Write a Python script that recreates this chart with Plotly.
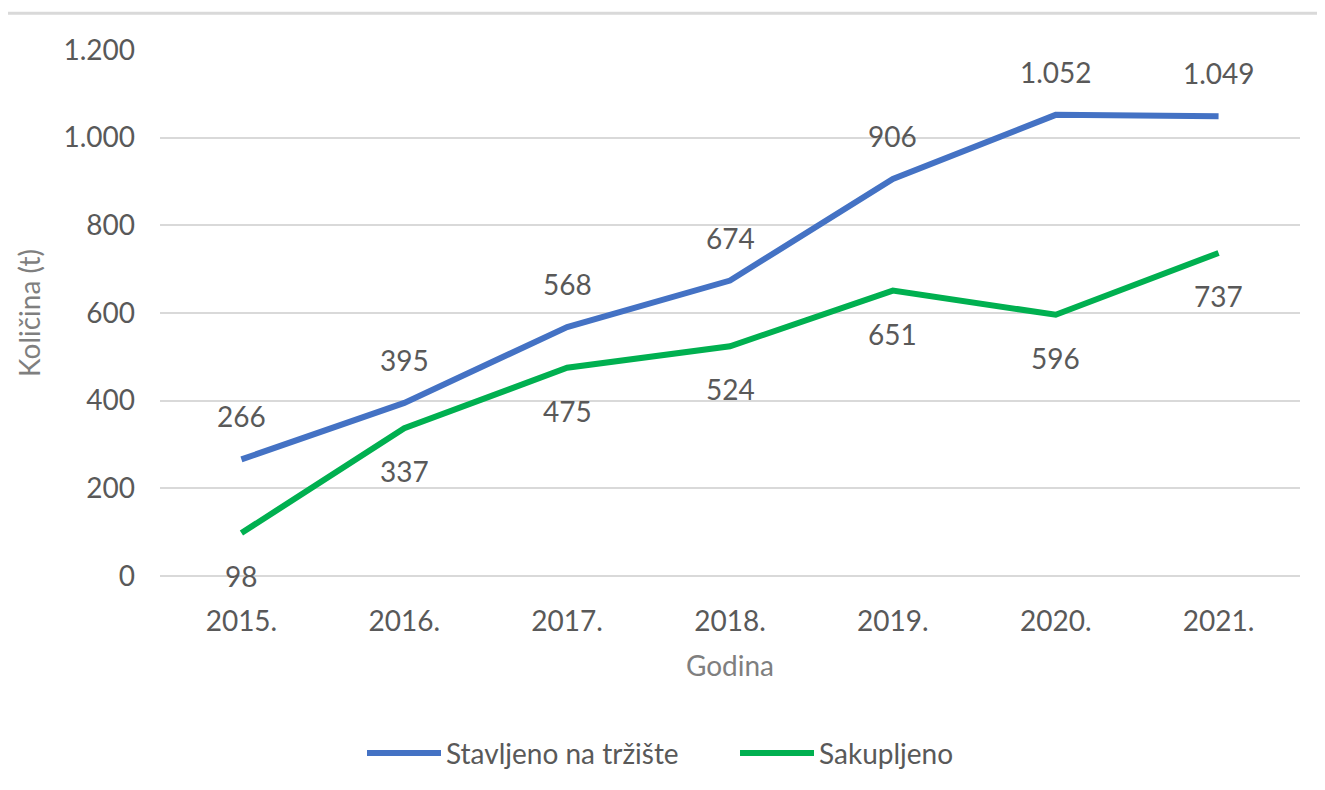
import plotly.graph_objects as go

years = ["2015.", "2016.", "2017.", "2018.", "2019.", "2020.", "2021."]
stavljeno = [266, 395, 568, 674, 906, 1052, 1049]
sakupljeno = [98, 337, 475, 524, 651, 596, 737]
y_ticks = [0, 200, 400, 600, 800, 1000, 1200]

BLUE = "#4472C4"
GREEN = "#00B050"
GRAY = "#595959"
LGRAY = "#7F7F7F"
FONT = "Lato, Open Sans, sans-serif"
FS = 28


def fmt(v):
    return f"{v:,}".replace(",", ".")


fig = go.Figure()
fig.add_trace(go.Scatter(x=years, y=stavljeno, mode="lines", name="Stavljeno na tržište",
                         line=dict(color=BLUE, width=6), hoverinfo="skip"))
fig.add_trace(go.Scatter(x=years, y=sakupljeno, mode="lines", name="Sakupljeno",
                         line=dict(color=GREEN, width=6), hoverinfo="skip"))

annotations = []
for i, v in enumerate(stavljeno):
    annotations.append(dict(x=i, y=v, xref="x", yref="y", text=fmt(v), showarrow=False,
                            yshift=43, font=dict(size=FS, color=GRAY, family=FONT)))
for i, v in enumerate(sakupljeno):
    annotations.append(dict(x=i, y=v, xref="x", yref="y", text=fmt(v), showarrow=False,
                            yshift=-43, font=dict(size=FS, color=GRAY, family=FONT)))

# page has an 8px body margin: figure origin sits at (8, 8)
W, H = 1317, 782
L, R, T, B = 152, 25, 42, 212
PW = W - L - R
PH = H - T - B

fig.update_layout(
    width=W, height=H,
    margin=dict(l=L, r=R, t=T, b=B),
    paper_bgcolor="white", plot_bgcolor="white",
    font=dict(family=FONT, color=GRAY, size=FS),
    annotations=annotations,
    showlegend=True,
    legend=dict(orientation="h", x=(362 - 8 - L) / PW, xanchor="left",
                y=-(756 - 8 - (T + PH)) / PH, yanchor="middle",
                font=dict(size=FS, color=GRAY, family=FONT), itemwidth=74,
                entrywidth=284, traceorder="normal"),
    xaxis=dict(type="category", range=[-0.5, 6.5], showgrid=False, showline=False,
               ticks="", tickfont=dict(size=FS, color=GRAY), ticklabelstandoff=26,
               title=dict(text="Godina", font=dict(size=FS, color=LGRAY), standoff=20)),
    yaxis=dict(range=[0, 1200], tickvals=y_ticks, ticktext=[fmt(v) for v in y_ticks],
               showgrid=True, gridcolor="#D9D9D9", gridwidth=1.5, zeroline=True,
               zerolinecolor="#D9D9D9", zerolinewidth=1.5, showline=False, ticks="",
               tickfont=dict(size=FS, color=GRAY), ticklabelstandoff=24,
               title=dict(text="Količina (t)", font=dict(size=FS, color=LGRAY), standoff=14)),
    shapes=[dict(type="line", xref="paper", yref="paper",
                 x0=(6 - 8 - L) / PW, x1=(1325 - 8 - L) / PW,
                 y0=(T + PH - (13 - 8)) / PH, y1=(T + PH - (13 - 8)) / PH,
                 line=dict(color="#D9D9D9", width=3))],
)

fig.write_html("out.html")
